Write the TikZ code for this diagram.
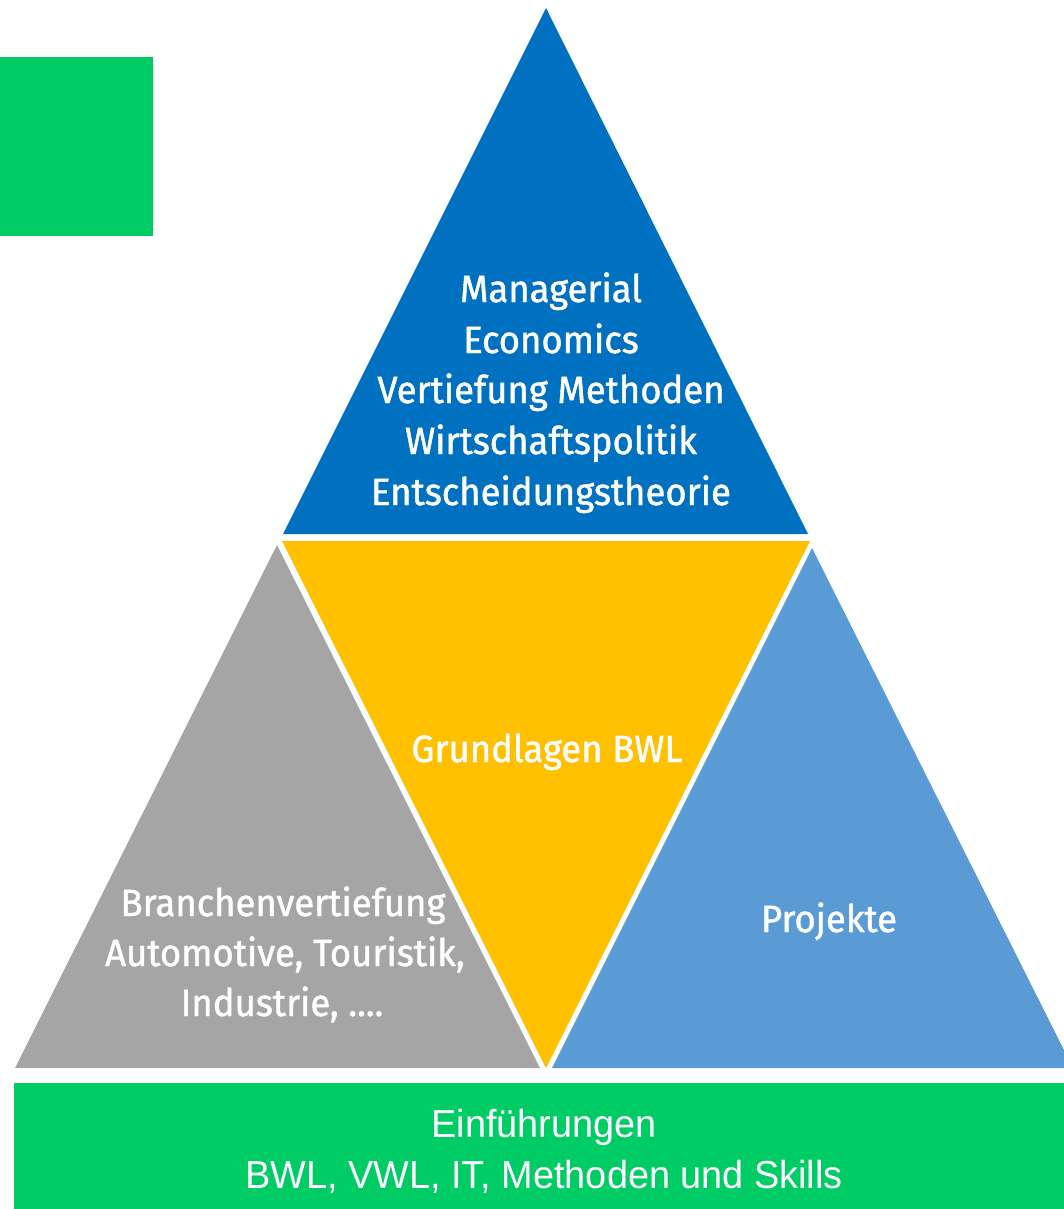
\documentclass[tikz,border=0pt]{standalone}
\usepackage{fontspec}
\newfontfamily\dinfont[FakeStretch=0.96,FakeBold=1.2]{Fira Sans}
\newfontfamily\barfont[FakeStretch=0.97]{Liberation Sans}
\definecolor{topblue}{RGB}{0,112,192}
\definecolor{coreyellow}{RGB}{255,192,0}
\definecolor{sidegray}{RGB}{165,165,165}
\definecolor{sideblue}{RGB}{91,155,213}
\definecolor{basegreen}{RGB}{0,204,102}
\tikzset{
  lbl/.style={anchor=base, text=white, inner sep=0pt, font=\dinfont\fontsize{38}{46}\selectfont},
  barlbl/.style={anchor=base, text=white, inner sep=0pt, font=\barfont\fontsize{39}{47}\selectfont},
}
\begin{document}
\begin{tikzpicture}[x=1pt,y=-1pt]
\useasboundingbox (0,0) rectangle (1064,1209);
\clip (0,0) rectangle (1064,1209);
% green square top-left
\fill[basegreen] (0,57) rectangle (153,236);
% top triangle
\fill[topblue] (546,8) -- (808,534) -- (283,534) -- cycle;
% inverted centre triangle
\fill[coreyellow] (282,541) -- (810,541) -- (546,1068) -- cycle;
% left triangle
\fill[sidegray] (277,545) -- (540,1068) -- (15,1068) -- cycle;
% right triangle
\fill[sideblue] (812,548) -- (1073,1068) -- (552,1068) -- cycle;
% base bar
\fill[basegreen] (14,1083) rectangle (1064,1209);

\node[lbl] (t1) at (551,302) {Managerial};
\node[lbl] (t2) at (551,353) {Economics};
\node[lbl] (t3) at (551,403) {Vertiefung Methoden};
\node[lbl] (t4) at (551,454) {Wirtschaftspolitik};
\node[lbl] (t5) at (551,505) {Entscheidungstheorie};

\node[lbl] (g1) at (547,762) {Grundlagen BWL};

\node[lbl] (l1) at (283,916) {Branchenvertiefung};
\node[lbl] (l2) at (285,966) {Automotive, Touristik,};
\node[lbl] (l3) at (282,1016) {Industrie, ....};

\node[lbl] (p1) at (829,932) {Projekte};

\node[barlbl] (b1) at (544,1137) {Einführungen};
\node[barlbl] (b2) at (544,1188) {BWL, VWL, IT, Methoden und Skills};
\end{tikzpicture}
\end{document}
